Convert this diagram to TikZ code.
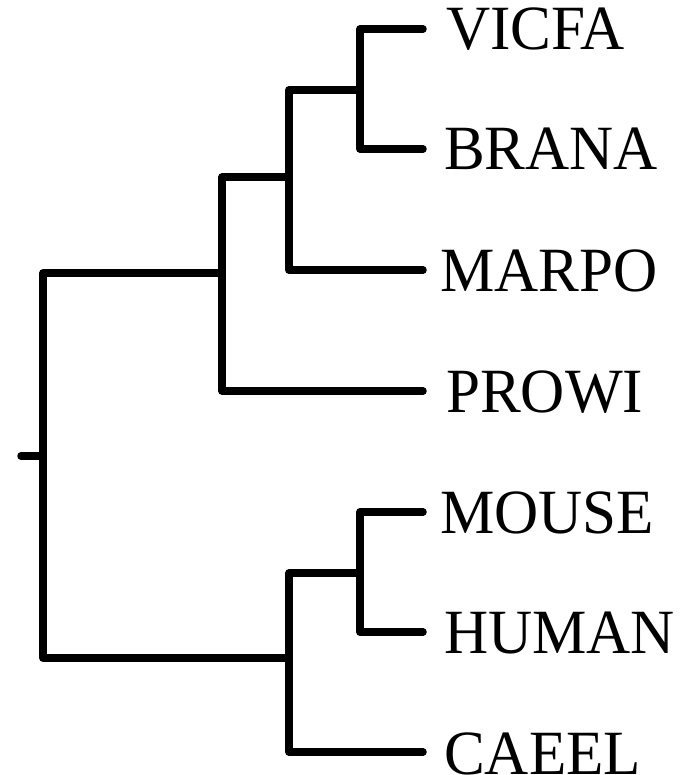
\documentclass[tikz,border=0pt]{standalone}
\usepackage{fontspec}
\setmainfont{Liberation Serif}
\begin{document}
\begin{tikzpicture}[x=1pt,y=-1pt,
  br/.style={line width=7.5pt, line cap=round, line join=round},
  lab/.style={anchor=base west, inner sep=0pt, xscale=0.97, font=\fontsize{63}{63}\selectfont}]
\useasboundingbox (0,0) rectangle (685,775);
% leaf tips
\coordinate (tVICFA) at (423,29);
\coordinate (tBRANA) at (423,149);
\coordinate (tMARPO) at (423,270);
\coordinate (tPROWI) at (423,391);
\coordinate (tMOUSE) at (423,512);
\coordinate (tHUMAN) at (423,632);
\coordinate (tCAEEL) at (423,752);
% internal nodes
\coordinate (n1) at (360,90);
\coordinate (n2) at (289,177);
\coordinate (n3) at (222,273);
\coordinate (n4) at (360,573);
\coordinate (n5) at (289,658);
\coordinate (r) at (43,456);
\coordinate (s) at (21,456);
% labels
\node[lab] (VICFA) at (446,50) {VICFA};
\node[lab] (BRANA) at (444,170) {BRANA};
\node[lab] (MARPO) at (440,291) {MARPO};
\node[lab] (PROWI) at (446,412) {PROWI};
\node[lab] (MOUSE) at (440,533) {MOUSE};
\node[lab] (HUMAN) at (444,653) {HUMAN};
\node[lab] (CAEEL) at (444,774) {CAEEL};
% branches
\draw[br] (s) -- (r);
\draw[br] (n3) -| (r) |- (n5);
\draw[br] (n2) -| (n3) |- (tPROWI);
\draw[br] (n1) -| (n2) |- (tMARPO);
\draw[br] (tVICFA) -| (n1) |- (tBRANA);
\draw[br] (n4) -| (n5) |- (tCAEEL);
\draw[br] (tMOUSE) -| (n4) |- (tHUMAN);
\end{tikzpicture}
\end{document}
